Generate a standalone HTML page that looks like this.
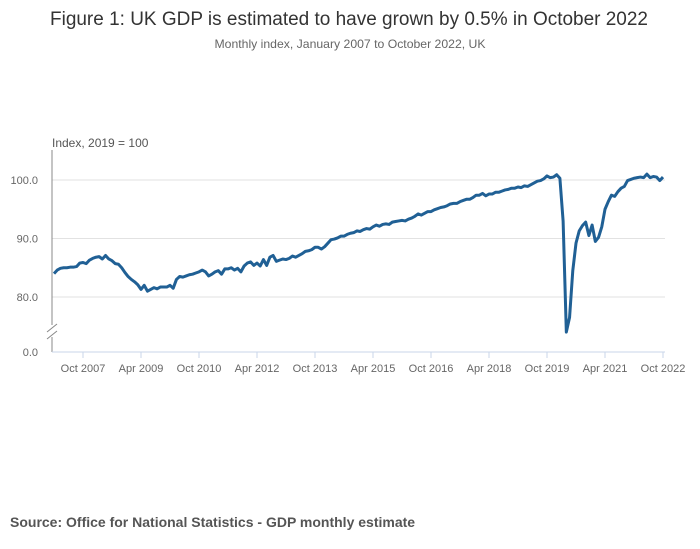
<!DOCTYPE html>
<html><head><meta charset="utf-8"><style>
html,body{margin:0;padding:0;background:#fff;}
svg{display:block;font-family:"Liberation Sans",sans-serif;}
</style></head><body>
<svg id="chart" width="700" height="549" viewBox="0 0 700 549">
<text x="349" y="25" text-anchor="middle" font-size="19" fill="#333" textLength="598" lengthAdjust="spacingAndGlyphs">Figure 1: UK GDP is estimated to have grown by 0.5% in October 2022</text>
<text x="350" y="48" text-anchor="middle" font-size="12" fill="#666" textLength="271" lengthAdjust="spacingAndGlyphs">Monthly index, January 2007 to October 2022, UK</text>
<text x="52" y="147" font-size="12" fill="#555">Index, 2019 = 100</text>
<g id="grid"></g>
<g id="yticks"></g>
<g id="xticks"></g>
<line x1="52" y1="150" x2="52" y2="325" stroke="#888" stroke-width="1"/>
<line x1="52" y1="337" x2="52" y2="352" stroke="#888" stroke-width="1"/>
<line x1="47" y1="332" x2="57" y2="324" stroke="#888" stroke-width="1"/>
<line x1="47" y1="339" x2="57" y2="331" stroke="#888" stroke-width="1"/>
<line x1="52" y1="352" x2="665" y2="352" stroke="#c8d6ea" stroke-width="1"/>
<path id="line" fill="none" stroke="#206095" stroke-width="3" stroke-linejoin="round"/>
<text x="10" y="527" font-size="14" font-weight="bold" fill="#555">Source: Office for National Statistics - GDP monthly estimate</text>
</svg>
<script>
const yearsStart = 2007;
const y2007 = [84.0,84.6,84.9,85.0,85.0,85.1,85.1,85.2,85.8,85.9,85.7,86.3];
const y2008 = [86.6,86.8,86.9,86.5,87.1,86.5,86.2,85.7,85.6,85.0,84.2,83.5];
const y2009 = [83.0,82.6,82.1,81.3,82.0,81.0,81.3,81.6,81.4,81.7,81.7,81.7];
const y2010 = [82.0,81.5,83.0,83.5,83.4,83.6,83.8,83.9,84.1,84.3,84.6,84.3];
const y2011 = [83.6,83.9,84.3,84.5,83.9,84.8,84.8,85.0,84.6,84.9,84.3,85.3];
const y2012 = [85.8,86.0,85.4,85.8,85.3,86.4,85.4,86.8,87.1,86.1,86.3,86.5];
const y2013 = [86.4,86.6,87.0,86.8,87.1,87.4,87.8,87.9,88.1,88.5,88.5,88.2];
const y2014 = [88.6,89.2,89.8,89.9,90.1,90.4,90.4,90.7,90.9,91.0,91.3,91.2];
const y2015 = [91.5,91.7,91.6,92.0,92.3,92.1,92.4,92.5,92.4,92.8,92.9,93.0];
const y2016 = [93.1,93.0,93.3,93.5,93.8,94.2,94.0,94.3,94.6,94.6,94.9,95.1];
const y2017 = [95.3,95.4,95.6,95.9,96.0,96.0,96.3,96.5,96.7,96.7,97.0,97.4];
const y2018 = [97.4,97.7,97.3,97.6,97.6,97.9,97.9,98.1,98.3,98.4,98.6,98.6];
const y2019 = [98.8,98.7,99.0,98.9,99.2,99.5,99.8,99.9,100.2,100.7,100.4,100.5];
const y2020 = [100.9,100.3,93.0,74.0,76.5,84.5,89.2,91.3,92.2,92.8,90.5,92.3];
const y2021 = [89.5,90.2,92.0,95.0,96.3,97.4,97.2,98.0,98.6,98.9,99.9,100.1];
const y2022 = [100.3,100.4,100.5,100.4,101.0,100.4,100.6,100.5,99.9,100.5];
const gridValues = [80,90,100];
const gridLabels = ["80.0","90.0","100.0"];
const xTickLabels = ["Oct 2007","Apr 2009","Oct 2010","Apr 2012","Oct 2013","Apr 2015","Oct 2016","Apr 2018","Oct 2019","Apr 2021","Oct 2022"];
const xTickMonths = [9,27,45,63,81,99,117,135,153,171,189];

const values = [].concat(y2007,y2008,y2009,y2010,y2011,y2012,y2013,y2014,y2015,y2016,y2017,y2018,y2019,y2020,y2021,y2022);
const NS = "http://www.w3.org/2000/svg";
function xScale(m){ return 54 + m * (663 - 54) / 189; }
function yScale(v){ return 180 + (100 - v) * 5.85; }

const grid = document.getElementById('grid');
const yt = document.getElementById('yticks');
gridValues.forEach((v,i)=>{
  const l = document.createElementNS(NS,'line');
  l.setAttribute('x1',52); l.setAttribute('x2',665);
  l.setAttribute('y1',yScale(v)); l.setAttribute('y2',yScale(v));
  l.setAttribute('stroke','#e2e2e2');
  
  
  grid.appendChild(l);
  const t = document.createElementNS(NS,'text');
  t.setAttribute('x',38); t.setAttribute('y',yScale(v)+4);
  t.setAttribute('text-anchor','end'); t.setAttribute('font-size','11'); t.setAttribute('fill','#666');
  t.textContent = gridLabels[i];
  
  
  yt.appendChild(t);
});
const zt = document.createElementNS(NS,'text');
zt.setAttribute('x',38); zt.setAttribute('y',356);
zt.setAttribute('text-anchor','end'); zt.setAttribute('font-size','11'); zt.setAttribute('fill','#666');
zt.textContent = "0.0";


yt.appendChild(zt);

const xt = document.getElementById('xticks');
xTickMonths.forEach((m,i)=>{
  const x = xScale(m);
  const l = document.createElementNS(NS,'line');
  l.setAttribute('x1',x); l.setAttribute('x2',x);
  l.setAttribute('y1',352); l.setAttribute('y2',358);
  l.setAttribute('stroke','#c8d6ea');
  
  
  xt.appendChild(l);
  const t = document.createElementNS(NS,'text');
  t.setAttribute('x',x); t.setAttribute('y',372);
  t.setAttribute('text-anchor','middle'); t.setAttribute('font-size','11'); t.setAttribute('fill','#666');
  t.textContent = xTickLabels[i];
  
  
  xt.appendChild(t);
});

let d = "";
values.forEach((v,i)=>{ d += (i? "L":"M") + xScale(i).toFixed(2) + " " + yScale(v).toFixed(2) + " "; });
document.getElementById('line').setAttribute('d', d);
</script>
</body></html>
